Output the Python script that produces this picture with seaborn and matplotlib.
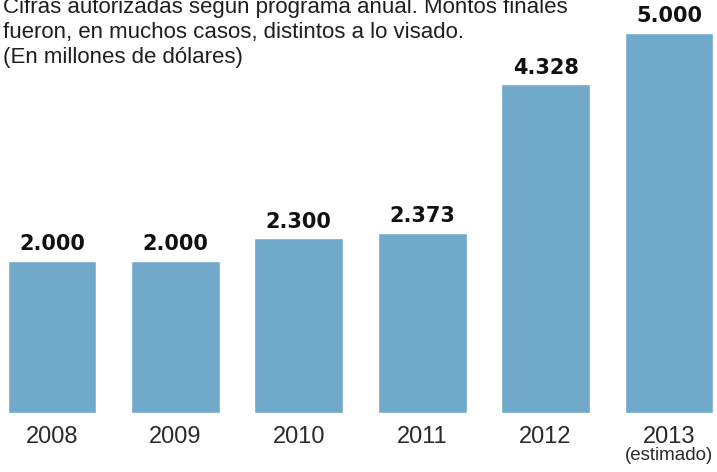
import pandas as pd
import seaborn as sns
import matplotlib.pyplot as plt

years = ["2008", "2009", "2010", "2011", "2012", "2013"]
values = [2000, 2000, 2300, 2373, 4328, 5000]
value_labels = ["2.000", "2.000", "2.300", "2.373", "4.328", "5.000"]
subtitle = ["Cifras autorizadas según programa anual. Montos finales",
            "fueron, en muchos casos, distintos a lo visado.",
            "(En millones de dólares)"]

W, H = 717, 472
fig = plt.figure(figsize=(W / 100, H / 100), dpi=100)
ax = fig.add_axes([0, 0, 1, 1])
sns.set_style("white")
plt.rcParams['font.family'] = ['Liberation Sans', 'DejaVu Sans']

df = pd.DataFrame({"year": years, "value": values})
sns.barplot(data=df, x="year", y="value", color="#70a9c9", saturation=1,
            width=0.72, ax=ax)

# map pixel layout of the reference to data limits
px_unit_x = 123.4
ax.set_xlim(-52 / px_unit_x, 5 + (W - 669) / px_unit_x)
px_unit_y = 380 / 5000
ax.set_ylim(-59 / px_unit_y, 5000 + 33 / px_unit_y)
ax.axis("off")

for i, (v, lab) in enumerate(zip(values, value_labels)):
    ax.text(i, v + 16.5 / px_unit_y, lab, ha="center", va="center",
            fontsize=15, fontweight="bold", color="#111111",
            family="DejaVu Sans")
    ax.text(i, -24 / px_unit_y, years[i], ha="center", va="center",
            fontsize=17, color="#2a2a2a")
ax.text(5, -42 / px_unit_y, "(estimado)", ha="center", va="center",
        fontsize=13.5, color="#2a2a2a")

for k, line in enumerate(subtitle):
    fig.text(3 / W, 1 - (8 + 24.5 * k) / H, line, ha="left", va="center",
             fontsize=16, color="#1e1e1e")

fig.savefig("out.png", dpi=100)
